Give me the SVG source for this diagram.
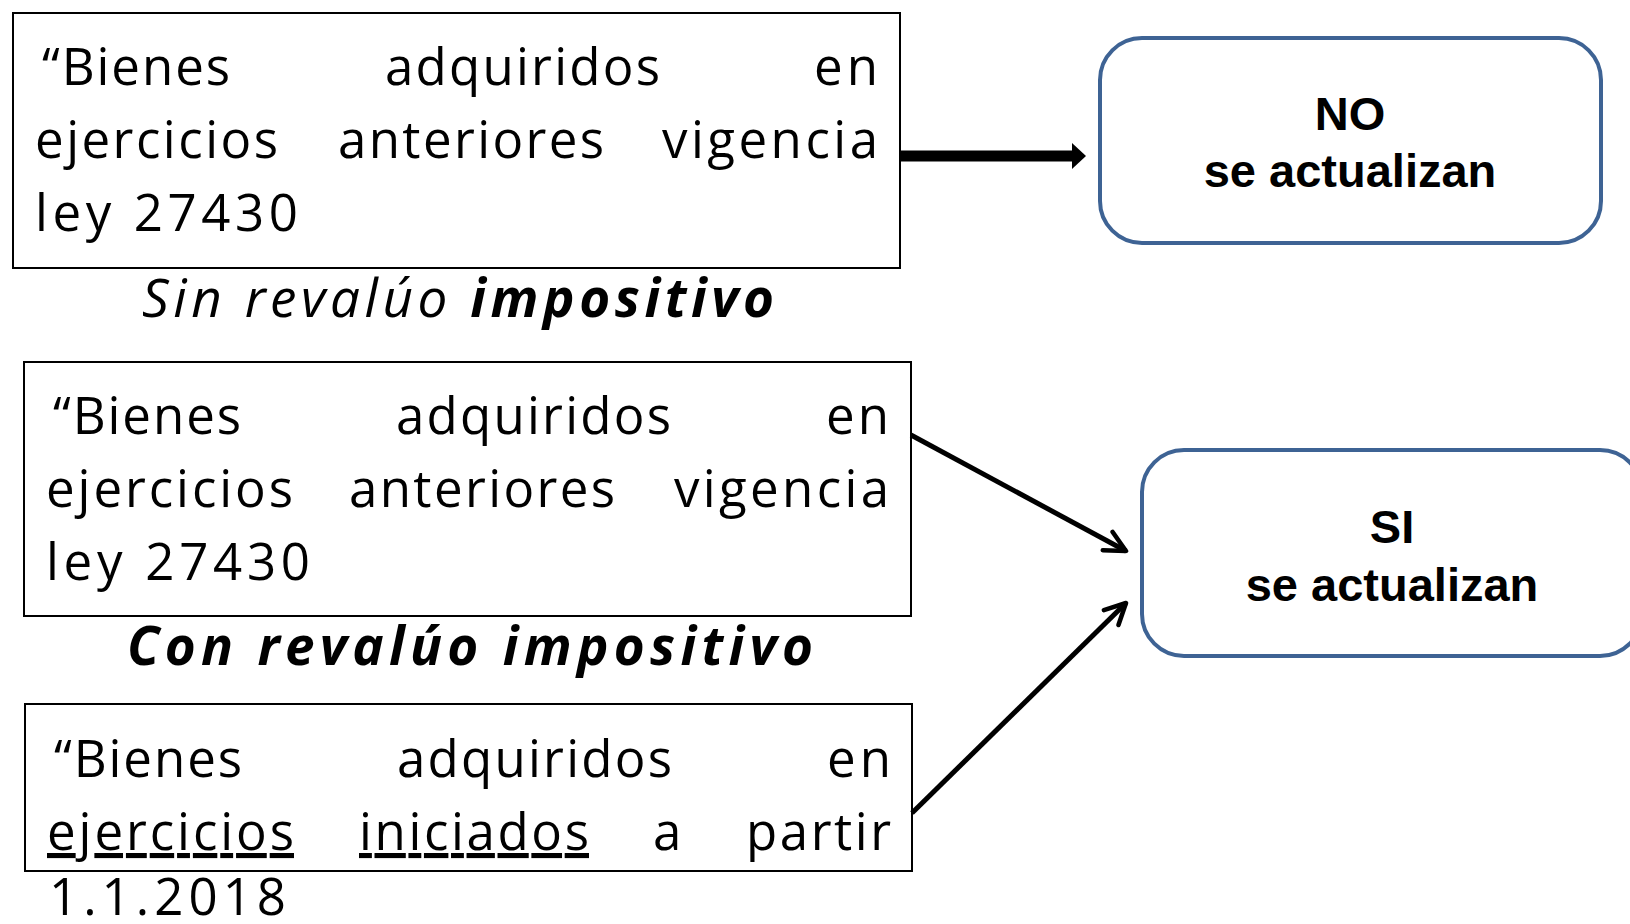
<svg xmlns="http://www.w3.org/2000/svg" width="1630" height="924" viewBox="0 0 1630 924">
<defs>
<style>
.box{fill:#fff;stroke:#000;stroke-width:2}
.rbox{fill:#fff;stroke:#3E6394;stroke-width:4}
.t{font-family:"Open Sans","DejaVu Sans",sans-serif;font-size:51px;fill:#000}
.lab{font-family:"Open Sans","DejaVu Sans",sans-serif;font-size:53px;font-style:italic;fill:#000}
.res{font-family:"Liberation Sans",Arial,sans-serif;font-size:47px;font-weight:bold;fill:#000;text-anchor:middle}
.u{text-decoration:underline}
.conn{fill:none;stroke:#000;stroke-width:5}
</style>
<marker id="open" viewBox="0 0 20 20" refX="18" refY="10" markerWidth="26" markerHeight="26" markerUnits="userSpaceOnUse" orient="auto">
<path d="M2,2 L18,10 L2,18" fill="none" stroke="#000" stroke-width="3.5" stroke-linecap="round" stroke-linejoin="round"/>
</marker>
</defs>
<rect width="1630" height="924" fill="#fff"/>

<g id="node-sin">
<rect class="box" x="13" y="13" width="887" height="255"/>
<text class="t" x="42" y="85" textLength="188" lengthAdjust="spacing">“Bienes</text>
<text class="t" x="385" y="85" textLength="275" lengthAdjust="spacing">adquiridos</text>
<text class="t" x="814" y="85" textLength="64" lengthAdjust="spacing">en</text>
<text class="t" x="35" y="158" textLength="243" lengthAdjust="spacing">ejercicios</text>
<text class="t" x="338" y="158" textLength="266" lengthAdjust="spacing">anteriores</text>
<text class="t" x="662" y="158" textLength="216" lengthAdjust="spacing">vigencia</text>
<text class="t" x="35" y="231" textLength="263" lengthAdjust="spacing">ley 27430</text>
</g>
<g id="label-sin">
<text class="lab" x="142" y="317" textLength="632" lengthAdjust="spacing">Sin revalúo <tspan font-weight="bold">impositivo</tspan></text>
</g>

<g id="node-con">
<rect class="box" x="24" y="362" width="887" height="254"/>
<text class="t" x="53" y="434" textLength="188" lengthAdjust="spacing">“Bienes</text>
<text class="t" x="396" y="434" textLength="275" lengthAdjust="spacing">adquiridos</text>
<text class="t" x="826" y="434" textLength="63" lengthAdjust="spacing">en</text>
<text class="t" x="46" y="507" textLength="247" lengthAdjust="spacing">ejercicios</text>
<text class="t" x="349" y="507" textLength="266" lengthAdjust="spacing">anteriores</text>
<text class="t" x="674" y="507" textLength="215" lengthAdjust="spacing">vigencia</text>
<text class="t" x="46" y="580" textLength="264" lengthAdjust="spacing">ley 27430</text>
</g>
<g id="label-con">
<text class="lab" x="127" y="665" font-weight="bold" textLength="686" lengthAdjust="spacing">Con revalúo impositivo</text>
</g>

<g id="node-2018">
<rect class="box" x="25" y="704" width="887" height="167"/>
<text class="t" x="54" y="777" textLength="188" lengthAdjust="spacing">“Bienes</text>
<text class="t" x="397" y="777" textLength="275" lengthAdjust="spacing">adquiridos</text>
<text class="t" x="827" y="777" textLength="64" lengthAdjust="spacing">en</text>
<text class="t u" x="47" y="850" textLength="247" lengthAdjust="spacing">ejercicios</text>
<text class="t u" x="359" y="850" textLength="230" lengthAdjust="spacing">iniciados</text>
<text class="t" x="653" y="850" textLength="29" lengthAdjust="spacing">a</text>
<text class="t" x="746" y="850" textLength="145" lengthAdjust="spacing">partir</text>
<text class="t" x="49" y="915" textLength="237" lengthAdjust="spacing">1.1.2018</text>
</g>

<g id="node-no">
<rect class="rbox" x="1100" y="38" width="501" height="205" rx="42" ry="42"/>
<text class="res" x="1350" y="130">NO</text>
<text class="res" x="1350" y="187">se actualizan</text>
</g>

<g id="node-si">
<rect class="rbox" x="1142" y="450" width="500" height="206" rx="42" ry="42"/>
<text class="res" x="1392" y="543">SI</text>
<text class="res" x="1392" y="601">se actualizan</text>
</g>

<g id="connectors">
<path d="M899,156 L1074,156" stroke="#000" stroke-width="11" fill="none"/>
<path d="M1072,143 L1086,156 L1072,169 Z" fill="#000"/>
<path class="conn" d="M911,435 L1126,551" marker-end="url(#open)"/>
<path class="conn" d="M912,813 L1126,603" marker-end="url(#open)"/>
</g>
</svg>
